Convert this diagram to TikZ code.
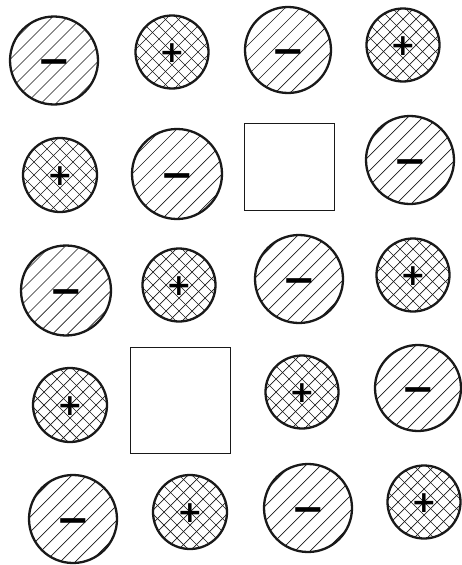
\documentclass[tikz,border=0pt]{standalone}
\usepackage{fontspec}
\newfontfamily\signfont{DejaVu Sans}
\tikzset{
  disc/.style={circle, draw=black!90, line width=2.3pt, inner sep=0pt, minimum size=#1},
  hatchA/.style={path picture={
      \foreach \k in {-7,...,7}
        \draw[line width=0.7pt] ([xshift=\k*15pt]path picture bounding box.center) ++(-60pt,-60pt) -- ++(120pt,120pt);}},
  hatchX/.style={path picture={
      \foreach \k in {-8,...,8} {
        \draw[line width=0.7pt] ([xshift=\k*13pt]path picture bounding box.center) ++(-60pt,-60pt) -- ++(120pt,120pt);
        \draw[line width=0.7pt] ([xshift=\k*13pt]path picture bounding box.center) ++(-60pt,60pt) -- ++(120pt,-120pt);}}},
  neg/.style={disc=#1, hatchA, font=\signfont\bfseries\fontsize{40}{40}\selectfont, text height=28pt, text depth=0pt},
  pos/.style={disc=#1, hatchX, font=\signfont\bfseries\fontsize{30}{30}\selectfont, text height=21pt, text depth=0pt},
  emptybox/.style n args={2}{draw=black!90, line width=1.8pt, minimum width=#1, minimum height=#2, inner sep=0pt}
}
\begin{document}
\begin{tikzpicture}[x=1pt,y=-1pt]
\useasboundingbox (0,0) rectangle (461,565);
% row 1
\node[neg=88pt] (A) at (54,60.5) {−};
\node[pos=73pt] (B) at (172,52) {+};
\node[neg=86pt] (E) at (288,50) {−};
\node[pos=73pt] (F) at (403,45) {+};
% row 2
\node[pos=74pt] (C) at (60,175) {+};
\node[neg=90pt] (D) at (177,174) {−};
\node[emptybox={90pt}{87pt}] (S1) at (289.5,167) {};
\node[neg=88pt] (G) at (410,160) {−};
% row 3
\node[neg=90pt] (H) at (66,290.5) {−};
\node[pos=73pt] (I) at (179,285) {+};
\node[neg=88pt] (K) at (299,279) {−};
\node[pos=73pt] (L) at (413,275) {+};
% row 4
\node[pos=74pt] (J) at (70,405) {+};
\node[emptybox={100pt}{106pt}] (S2) at (180.5,400.5) {};
\node[pos=73pt] (M) at (302,392) {+};
\node[neg=86pt] (N) at (418,388) {−};
% row 5
\node[neg=88pt] (O) at (73,519) {−};
\node[pos=74pt] (P) at (190,512) {+};
\node[neg=88pt] (Q) at (308,508) {−};
\node[pos=73pt] (R) at (424,502) {+};
\end{tikzpicture}
\end{document}
